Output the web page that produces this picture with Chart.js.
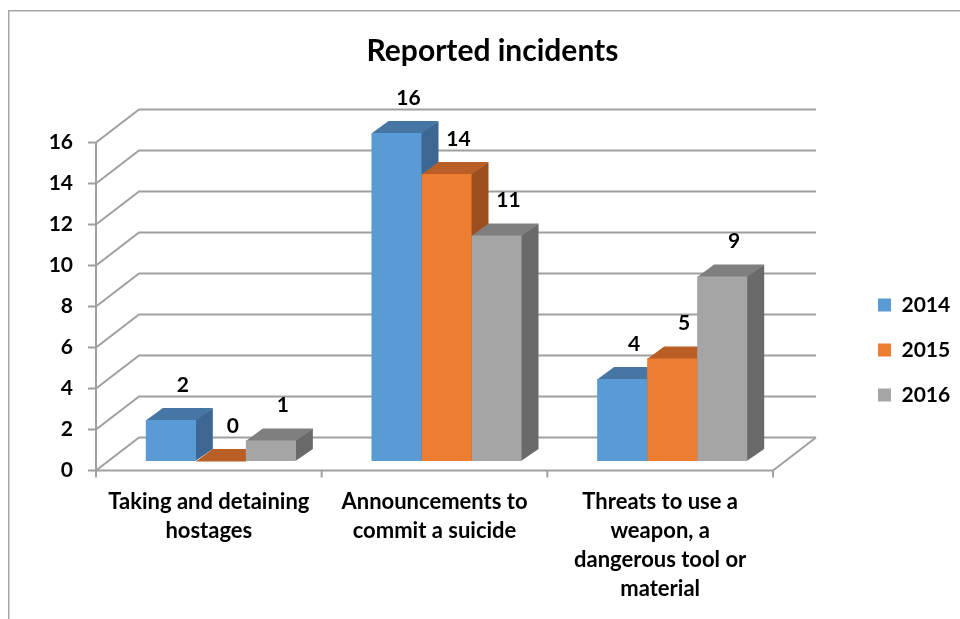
<!DOCTYPE html>
<html>
<head>
<meta charset="utf-8">
<script src="https://cdn.jsdelivr.net/npm/chart.js@4/dist/chart.umd.min.js"></script>
<style>
html,body{margin:0;padding:0;background:#fff;}
#wrap{width:960px;height:619px;position:relative;}
</style>
</head>
<body>
<div id="wrap"><canvas id="c" width="960" height="619"></canvas></div>
<script>
// ---- data ----
const categories = [
  ["Taking and detaining", "hostages"],
  ["Announcements to", "commit a suicide"],
  ["Threats to use a", "weapon, a", "dangerous tool or", "material"]
];
const seriesNames = ["2014", "2015", "2016"];
const values2014 = [2, 16, 4];
const values2015 = [0, 14, 5];
const values2016 = [1, 11, 9];
const yTickMin = 0;
const yTickMax = 16;
const yTickStep = 2;
const chartTitle = "Reported incidents";

// ---- styles ----
const frontColors = ['#5B9BD5', '#ED7D31', '#A5A5A5'];
const topColors   = ['#4676A4', '#B95E25', '#7F7F7F'];
const sideColors  = ['#3D6792', '#9C4F1E', '#6A6A6A'];
const FONT = 'Lato, "Open Sans", "Liberation Sans", sans-serif';

// 3D geometry (pixels)
const FX = -12, FY = 9.5;   // front plane offset relative to bar plane
const WX = 43,  WY = -33;   // wall depth
const DX = 17,  DY = -12;   // bar depth

function poly(ctx, pts) {
  ctx.beginPath();
  ctx.moveTo(pts[0][0], pts[0][1]);
  for (let k = 1; k < pts.length; k++) ctx.lineTo(pts[k][0], pts[k][1]);
  ctx.closePath();
  ctx.fill();
}

const threeD = {
  id: 'threeD',
  beforeDraw(chart) {
    const ctx = chart.ctx;
    ctx.save();
    ctx.fillStyle = '#ffffff';
    ctx.fillRect(0, 0, chart.width, chart.height);
    ctx.strokeStyle = '#a6a6a6';
    ctx.lineWidth = 1.5;
    ctx.strokeRect(8.75, 10.75, chart.width + 40, chart.height + 40);
    ctx.restore();
  },
  afterLayout(chart) {
    const lg = chart.legend;
    if (lg) {
      const w = lg.width;
      lg.left = 854; lg.right = lg.left + w;
      lg.top = 270.5; lg.bottom = 600;
    }
    const tb = chart.titleBlock;
    if (tb) {
      const w = tb.right - tb.left;
      tb.left = 492.5 - w / 2; tb.right = tb.left + w;
    }
  },
  beforeDatasetsDraw(chart) {
    const {ctx, chartArea, scales} = chart;
    const ys = scales.y, xs = scales.x;
    const x0 = chartArea.left + FX, x1 = chartArea.right + FX;
    ctx.save();
    ctx.strokeStyle = '#a0a0a0';
    ctx.lineWidth = 2;
    // walls + gridlines
    ys.ticks.forEach(t => {
      const y = ys.getPixelForValue(t.value) + FY;
      ctx.beginPath();
      ctx.moveTo(x0 - 8, y);
      ctx.lineTo(x0, y);
      ctx.lineTo(x0 + WX, y + WY);
      ctx.lineTo(x1 + WX, y + WY);
      ctx.stroke();
    });
    const yb = ys.getPixelForValue(ys.min) + FY;
    const yt = ys.getPixelForValue(ys.max) + FY;
    ctx.beginPath();
    ctx.moveTo(x0, yt);
    ctx.lineTo(x0, yb);
    ctx.lineTo(x1, yb);
    ctx.lineTo(x1 + WX, yb + WY);
    ctx.stroke();
    // category ticks
    const n = xs.ticks.length;
    ctx.beginPath();
    for (let i = 0; i <= n; i++) {
      let bx;
      if (i === 0) bx = chartArea.left;
      else if (i === n) bx = chartArea.right;
      else bx = (xs.getPixelForTick(i - 1) + xs.getPixelForTick(i)) / 2;
      bx += FX;
      ctx.moveTo(bx, yb);
      ctx.lineTo(bx, yb + 7);
    }
    ctx.stroke();
    // bar side and top faces (fronts are drawn by Chart.js afterwards)
    const nd = chart.data.datasets.length;
    for (let j = 0; j < chart.data.labels.length; j++) {
      for (let i = 0; i < nd; i++) {
        const el = chart.getDatasetMeta(i).data[j];
        if (!el) continue;
        const {x, y, base, width} = el.getProps(['x', 'y', 'base', 'width'], true);
        const l = x - width / 2, r = x + width / 2;
        ctx.fillStyle = sideColors[i];
        poly(ctx, [[r - 0.5, y], [r + DX, y + DY], [r + DX, base + DY], [r - 0.5, base]]);
        ctx.fillStyle = topColors[i];
        poly(ctx, [[l, y + 0.5], [r, y + 0.5], [r + DX, y + DY], [l + DX, y + DY]]);
      }
    }
    ctx.restore();
  },
  afterDatasetsDraw(chart) {
    const ctx = chart.ctx;
    ctx.save();
    ctx.fillStyle = '#000';
    ctx.font = 'bold 21px ' + FONT;
    ctx.textAlign = 'center';
    ctx.textBaseline = 'middle';
    chart.data.datasets.forEach((ds, i) => {
      chart.getDatasetMeta(i).data.forEach((el, j) => {
        const {x, y} = el.getProps(['x', 'y'], true);
        ctx.fillText(String(ds.data[j]), x + 12, y - 35);
      });
    });
    ctx.restore();
  }
};

const ctx = document.getElementById('c').getContext('2d');
new Chart(ctx, {
  type: 'bar',
  data: {
    labels: categories,
    datasets: [
      {label: seriesNames[0], data: values2014, backgroundColor: frontColors[0]},
      {label: seriesNames[1], data: values2015, backgroundColor: frontColors[1]},
      {label: seriesNames[2], data: values2016, backgroundColor: frontColors[2]}
    ]
  },
  options: {
    responsive: false,
    maintainAspectRatio: false,
    animation: false,
    devicePixelRatio: 1,
    layout: {padding: {left: 8, right: 175, top: 0, bottom: 0}},
    datasets: {bar: {barPercentage: 1, categoryPercentage: 0.665, borderWidth: 0}},
    plugins: {
      title: {
        display: true,
        text: chartTitle,
        color: '#000',
        font: {family: FONT, size: 30, weight: 'bold', lineHeight: 1.2},
        padding: {top: 33, bottom: 64}
      },
      legend: {
        display: true,
        position: 'chartArea',
        align: 'start',
        labels: {
          boxWidth: 13,
          boxHeight: 13,
          padding: 24,
          color: '#000',
          font: {family: FONT, size: 21, weight: 'bold'}
        }
      },
      tooltip: {enabled: false}
    },
    scales: {
      x: {
        grid: {display: false, drawTicks: false},
        border: {display: false},
        ticks: {
          color: '#000',
          font: {family: FONT, size: 22, weight: 'bold', lineHeight: 1.32},
          padding: 26.5,
          labelOffset: FX,
          maxRotation: 0,
          minRotation: 0,
          autoSkip: false
        },
        afterFit(scale) { scale.height = 158; }
      },
      y: {
        min: yTickMin,
        max: yTickMax,
        grid: {display: false, drawTicks: false},
        border: {display: false},
        ticks: {
          stepSize: yTickStep,
          color: '#000',
          font: {family: FONT, size: 21, weight: 'bold'},
          padding: 35,
          labelOffset: FY
        },
        afterFit(scale) { scale.width = 100; }
      }
    }
  },
  plugins: [threeD]
});
</script>
</body>
</html>
